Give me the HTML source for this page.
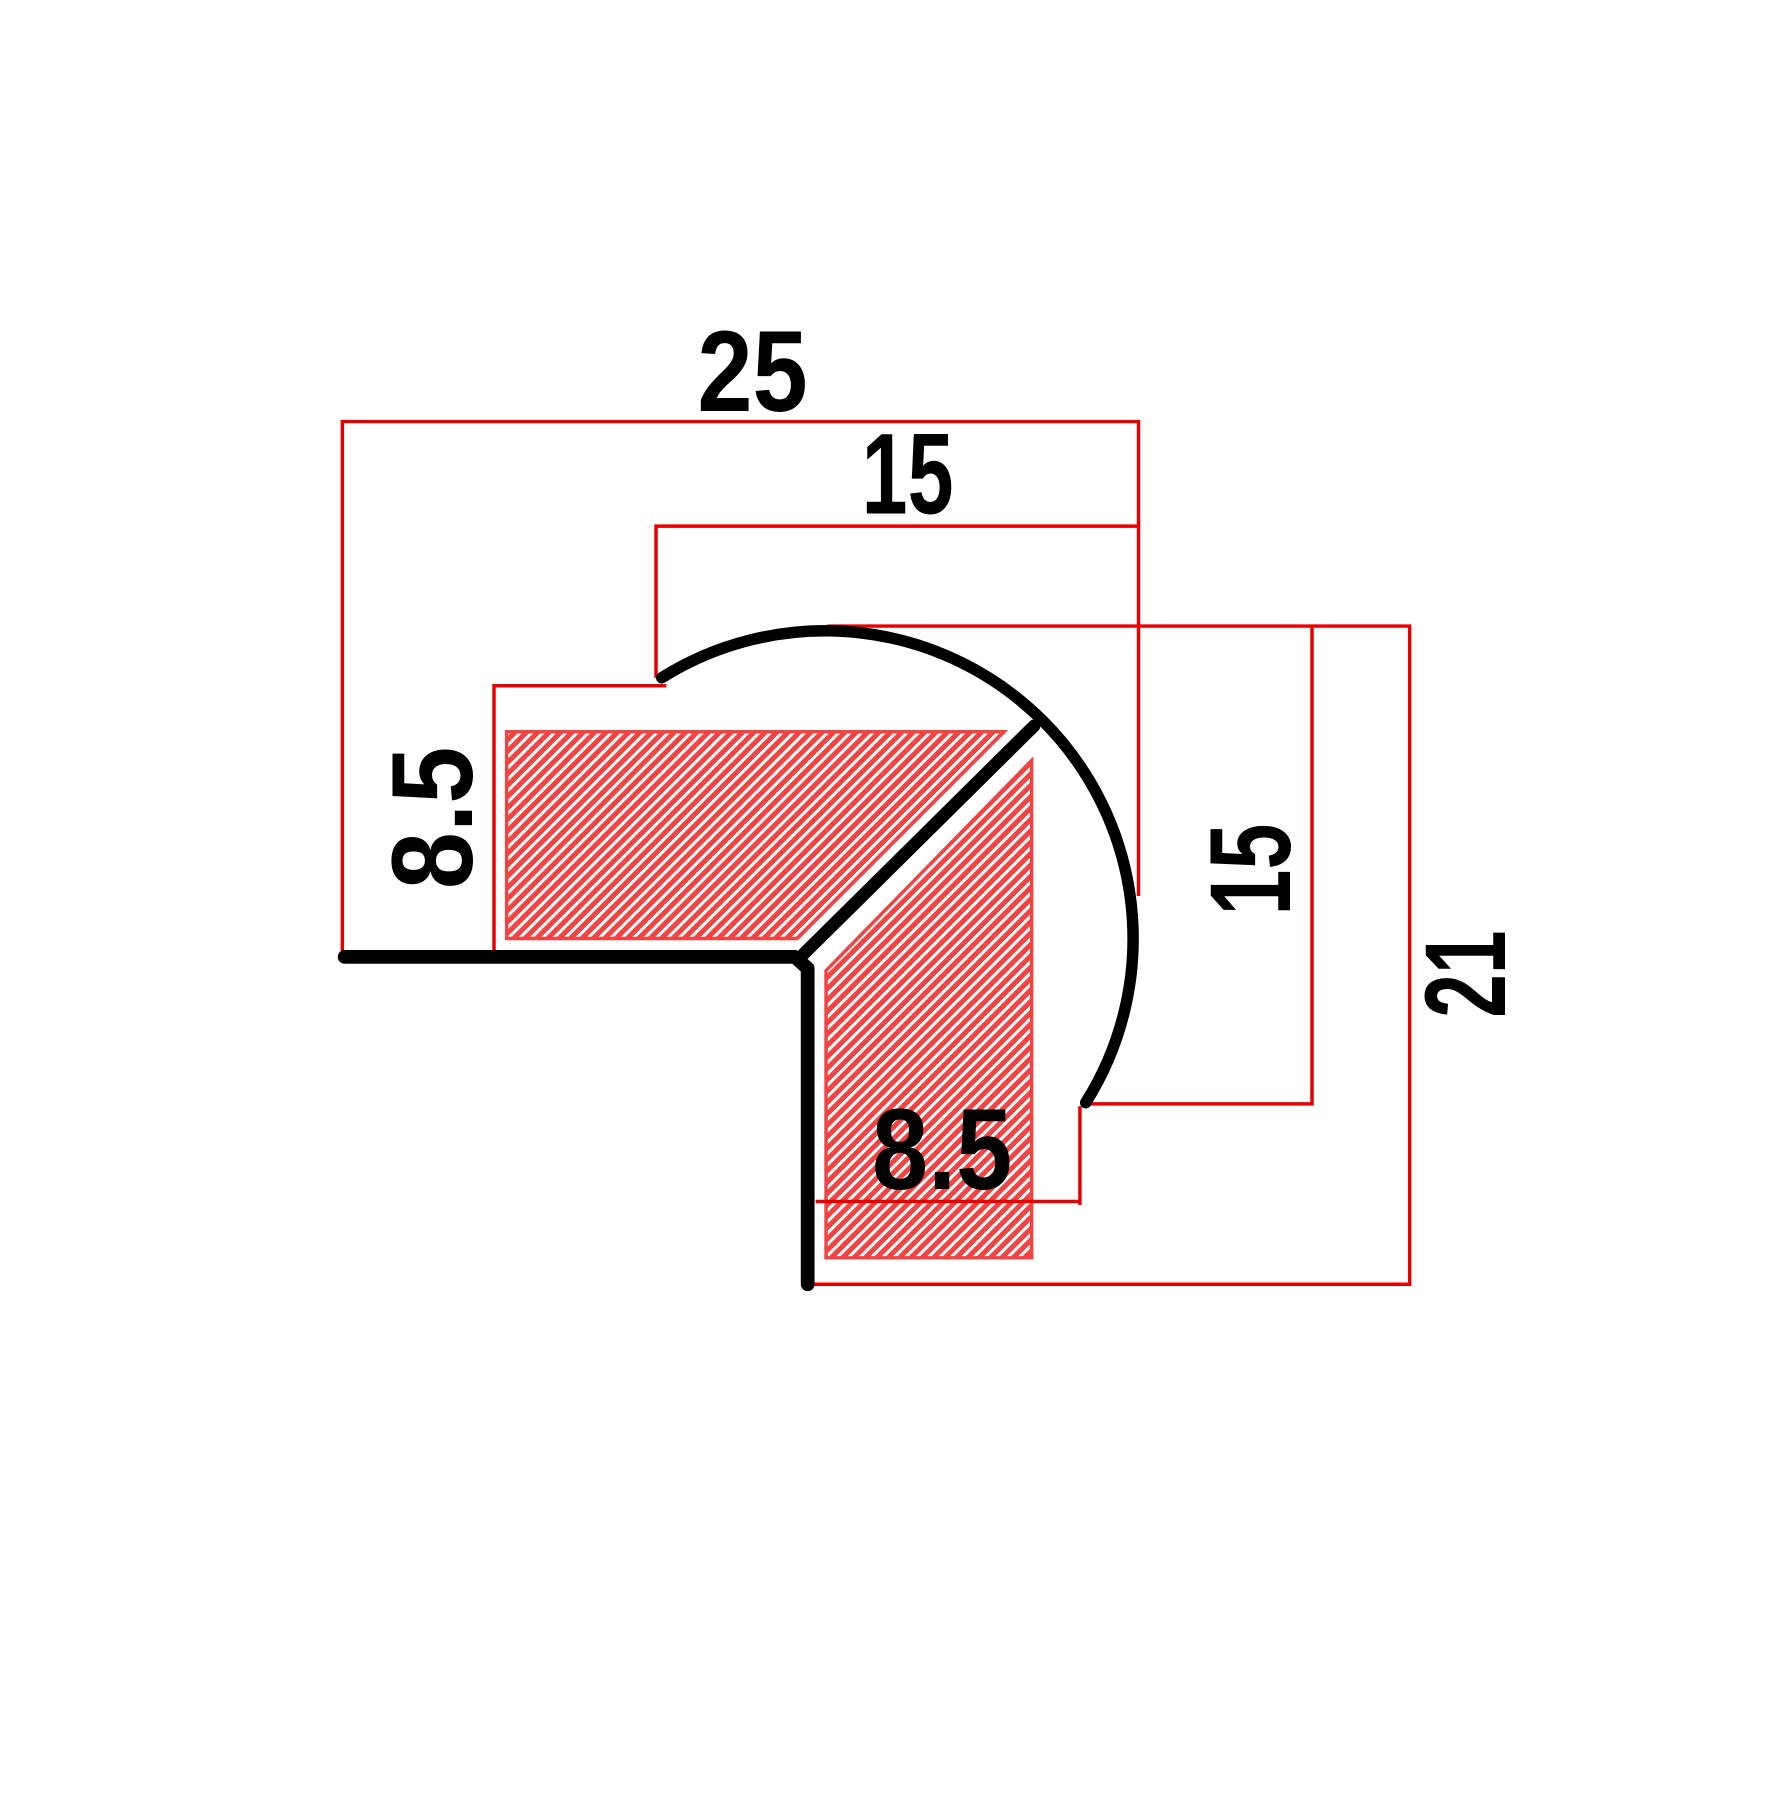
<!DOCTYPE html>
<html><head><meta charset="utf-8"><style>
html,body{margin:0;padding:0;background:#fff;}
svg{display:block;}
text{font-family:"Liberation Sans",sans-serif;font-weight:bold;fill:#000;}
</style></head><body>
<svg width="1775" height="1800" viewBox="0 0 1545 1567" preserveAspectRatio="none" xmlns="http://www.w3.org/2000/svg">
<defs>
<pattern id="h" patternUnits="userSpaceOnUse" width="7" height="7" patternTransform="rotate(-45)">
<rect width="7" height="7" fill="#ee4444"/>
<rect x="0" y="0" width="7" height="2.6" fill="#fff"/>
</pattern>
</defs>
<rect width="1545" height="1567" fill="#fff"/>
<polygon points="441,637 874,637 694,817 441,817" fill="url(#h)" stroke="#ee4444" stroke-width="3"/>
<polygon points="719,845 898,662 898,1095 719,1095" fill="url(#h)" stroke="#ee4444" stroke-width="3"/>
<g stroke="#e60000" stroke-width="3" fill="none">
<polyline points="298,830 298,367 991,367 991,780"/>
<polyline points="571,590 571,458 991,458"/>
<polyline points="430,828 430,597 580,597"/>
<polyline points="720,545 1227,545 1227,1118 703,1118"/>
<polyline points="1142,545 1142,961 948,961"/>
<polyline points="940,963 940,1049"/>
<line x1="710" y1="1046" x2="940" y2="1046"/>
</g>
<g stroke="#000" fill="none" stroke-linecap="round" stroke-linejoin="round">
<path d="M576,590 A268,268 0 0 1 945,960" stroke-width="10"/>
<polyline points="300,833 692,833 703,843 703,1118" stroke-width="12"/>
<line x1="700" y1="830" x2="900" y2="632" stroke-width="11"/>
</g>
<text x="655" y="358" font-size="100" text-anchor="middle" textLength="96" lengthAdjust="spacingAndGlyphs">25</text>
<text x="790" y="447" font-size="100" text-anchor="middle" textLength="80" lengthAdjust="spacingAndGlyphs">15</text>
<text x="820" y="1035" font-size="100" text-anchor="middle" textLength="122" lengthAdjust="spacingAndGlyphs">8.5</text>
<text transform="translate(411,712) rotate(-90)" font-size="100" text-anchor="middle" textLength="124" lengthAdjust="spacingAndGlyphs">8.5</text>
<text transform="translate(1123,757) rotate(-90)" font-size="100" text-anchor="middle" textLength="80" lengthAdjust="spacingAndGlyphs">15</text>
<text transform="translate(1310,848) rotate(-90)" font-size="100" text-anchor="middle" textLength="76" lengthAdjust="spacingAndGlyphs">21</text>
</svg>
</body></html>
